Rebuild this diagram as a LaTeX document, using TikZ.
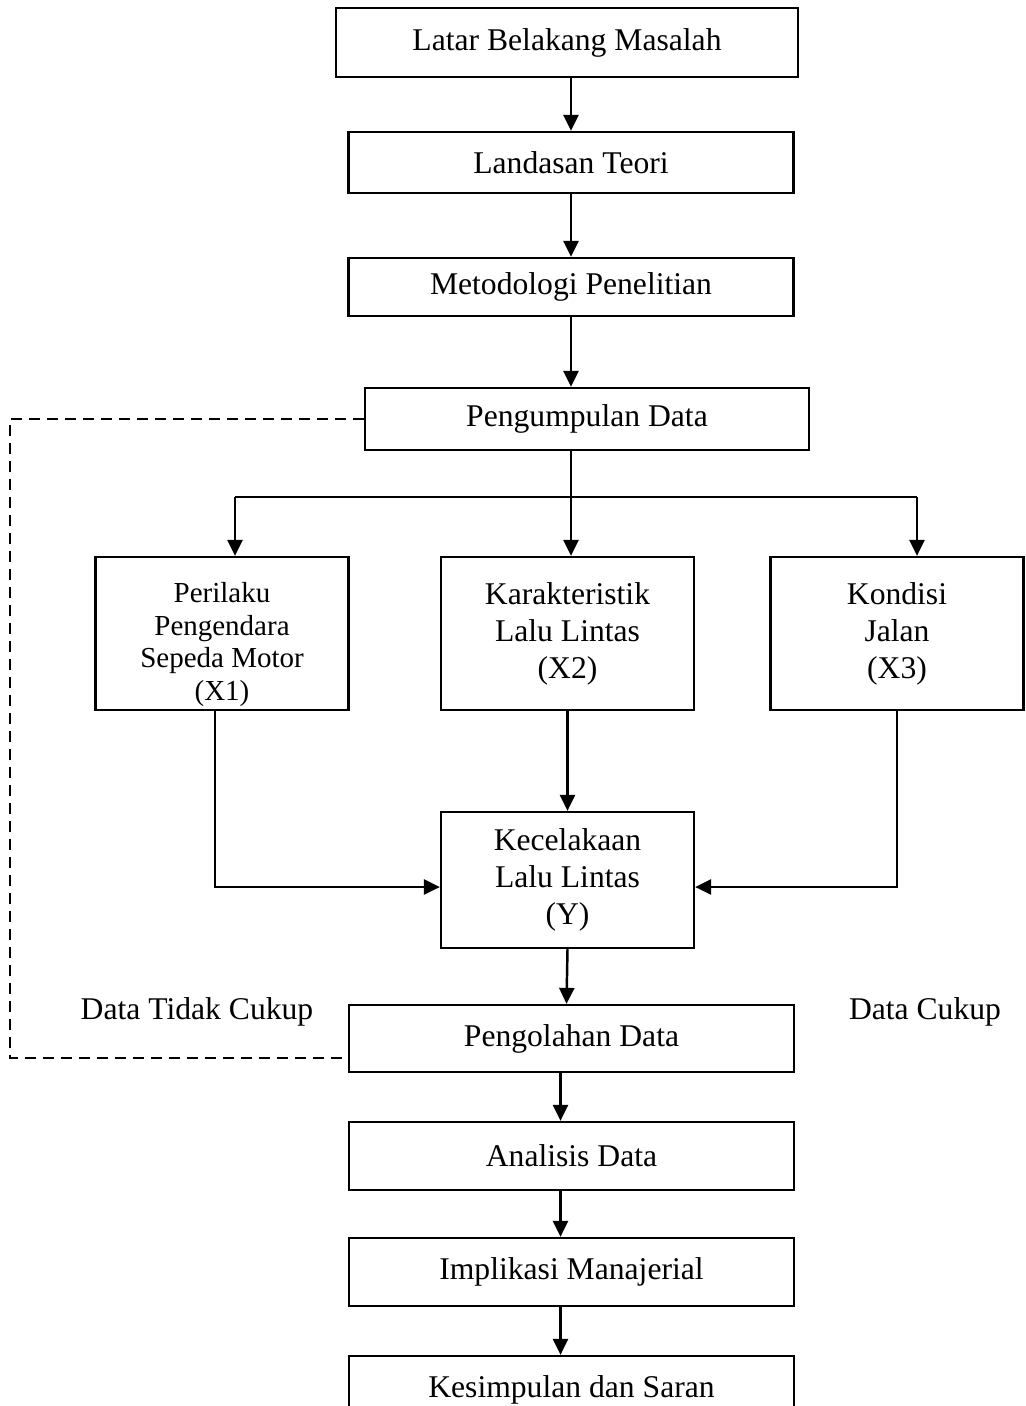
\documentclass[tikz,border=0pt]{standalone}
\usepackage{fontspec}
\setmainfont{Liberation Serif}
\usetikzlibrary{arrows.meta,positioning,calc}

\begin{document}
\begin{tikzpicture}[x=0.02cm,y=-0.02cm,
  flowbox/.style={draw,line width=1.3pt,inner sep=0pt,minimum width=8.9cm,minimum height=1.36cm,
    align=center,font=\fontsize{18}{22}\selectfont},
  varbox/.style={flowbox,minimum width=5.06cm,minimum height=3.06cm},
  flowarr/.style={-{Triangle[length=0.32cm,width=0.3cm]},line width=1.4pt},
  flowlab/.style={font=\fontsize{18}{22}\selectfont}
]
  \useasboundingbox (0,0) rectangle (1025,1406);

  % Main chain (top)
  \node[flowbox,minimum width=9.24cm,minimum height=1.38cm] (lbm) at (567,42.5) {Latar Belakang Masalah};
  \node[flowbox,minimum height=1.22cm] (lt) at (571,162.5) {Landasan Teori};
  \node[flowbox,minimum height=1.16cm] (mp) at (571,287) {Metodologi Penelitian};
  \node[flowbox,minimum width=8.88cm,minimum height=1.24cm] (pd) at (587,419) {Pengumpulan Data};

  % Variables
  \node[varbox,font=\fontsize{16.5}{18.5}\selectfont] (x1) at (222,633.5) {\rule{0pt}{1.45em}Perilaku\\Pengendara\\Sepeda Motor\\(X1)};
  \node[varbox,font=\fontsize{18}{21}\selectfont] (x2) at (567.5,633.5) {Karakteristik\\Lalu Lintas\\(X2)};
  \node[varbox,font=\fontsize{18}{21}\selectfont] (x3) at (897,633.5) {Kondisi\\Jalan\\(X3)};
  \node[varbox,minimum height=2.72cm,font=\fontsize{18}{21}\selectfont] (yy) at (567.5,880) {Kecelakaan\\Lalu Lintas\\(Y)};

  % Main chain (bottom)
  \node[flowbox,minimum height=1.34cm] (olah) at (571.5,1038.5) {Pengolahan Data};
  \node[flowbox] (anal) at (571.5,1156) {Analisis Data};
  \node[flowbox] (impl) at (571.5,1272) {Implikasi Manajerial};
  \node[flowbox] (kes) at (571.5,1390) {Kesimpulan dan Saran};

  % Side labels
  \node[flowlab] (tidak) at (197,1012) {Data Tidak Cukup};
  \node[flowlab] (cukup) at (925,1012) {Data Cukup};

  % Arrows down
  \draw[flowarr] (lbm.south -| lt.north) -- (lt.north);
  \draw[flowarr] (lt.south) -- (mp.north);
  \draw[flowarr] (mp.south) -- (mp.south |- pd.north);

  % Fork to variables
  \coordinate (fork) at (571,497);
  \coordinate (forkl) at (235,497);
  \coordinate (forkr) at (917,497);
  \draw[line width=1.4pt] (pd.south -| fork) -- (fork);
  \draw[line width=1.4pt] (forkl) -- (forkr);
  \draw[flowarr] (forkl) -- (forkl |- x1.north);
  \draw[flowarr] (fork) -- (fork |- x2.north);
  \draw[flowarr] (forkr) -- (forkr |- x3.north);

  % Variables to Y
  \draw[flowarr] ([xshift=-0.14cm]x1.south) |- ([yshift=-0.14cm]yy.west);
  \draw[flowarr] (x2.south) -- (yy.north);
  \draw[flowarr] (x3.south) |- ([yshift=-0.14cm]yy.east);
  \draw[flowarr] (yy.south) -- ([xshift=-0.1cm]olah.north);

  % Arrows down (bottom)
  \draw[flowarr] ([xshift=-0.22cm]olah.south) -- ([xshift=-0.22cm]anal.north);
  \draw[flowarr] ([xshift=-0.22cm]anal.south) -- ([xshift=-0.22cm]impl.north);
  \draw[flowarr] ([xshift=-0.22cm]impl.south) -- ([xshift=-0.22cm]kes.north);

  % Feedback loop (dashed)
  \draw[line width=1.5pt,dash pattern=on 0.22cm off 0.14cm] (pd.west) -- ++(-354,0) |- ([yshift=-0.39cm]olah.west);
\end{tikzpicture}
\end{document}
